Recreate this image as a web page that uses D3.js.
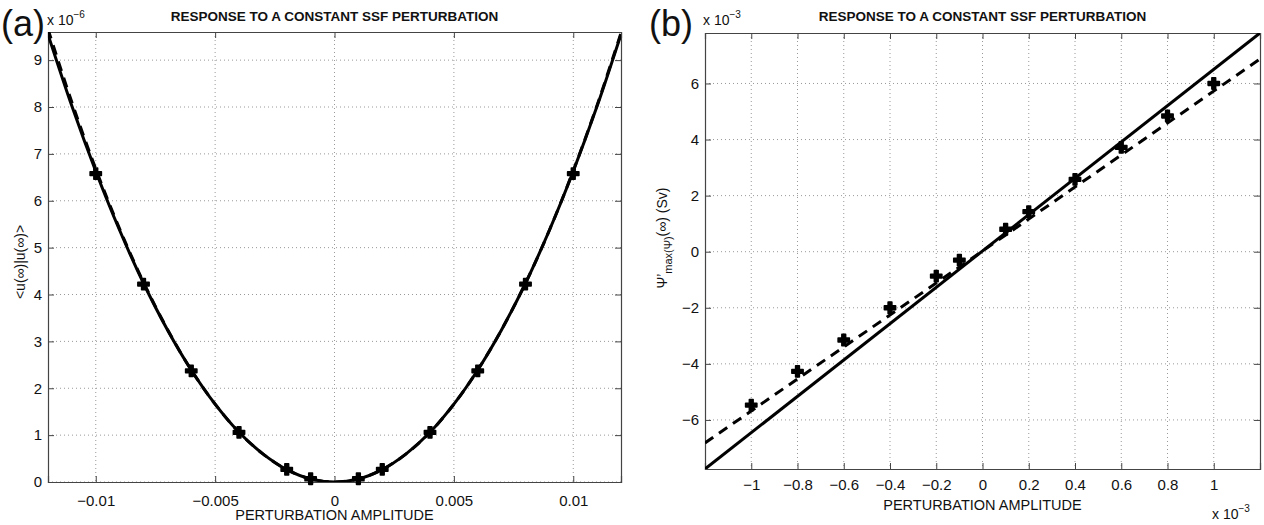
<!DOCTYPE html>
<html>
<head>
<meta charset="utf-8">
<script src="https://cdn.jsdelivr.net/npm/d3@7"></script>
<style>
  html, body { margin: 0; padding: 0; background: #fff; }
  svg { display: block; font-family: "Liberation Sans", Arial, Helvetica, sans-serif; }
</style>
</head>
<body>
<svg id="chart" width="1264" height="525"></svg>
<script>
// ---------- Panel (a) data ----------
const xTicksA = [-0.01, -0.005, 0, 0.005, 0.01];
const xLabelsA = ["\u22120.01", "\u22120.005", "0", "0.005", "0.01"];
const yTicksA = [0, 1, 2, 3, 4, 5, 6, 7, 8, 9];
const curveXA = [-0.012, -0.011, -0.010, -0.009, -0.008, -0.007, -0.006, -0.005, -0.004, -0.003, -0.002, -0.001, 0,
                 0.001, 0.002, 0.003, 0.004, 0.005, 0.006, 0.007, 0.008, 0.009, 0.010, 0.011, 0.012];
const solidA = [9.55, 8.02, 6.63, 5.37, 4.24, 3.25, 2.39, 1.66, 1.06, 0.60, 0.265, 0.066, 0,
                0.066, 0.265, 0.60, 1.06, 1.66, 2.39, 3.25, 4.24, 5.37, 6.63, 8.02, 9.55];
const dashedA = [9.66, 8.10, 6.68, 5.40, 4.26, 3.26, 2.39, 1.66, 1.06, 0.60, 0.265, 0.066, 0,
                 0.066, 0.265, 0.60, 1.06, 1.66, 2.39, 3.25, 4.24, 5.37, 6.64, 8.04, 9.58];
const markXA = [-0.010, -0.008, -0.006, -0.004, -0.002, -0.001, 0.001, 0.002, 0.004, 0.006, 0.008, 0.010];
const markYA = [6.58, 4.22, 2.37, 1.06, 0.27, 0.07, 0.07, 0.27, 1.06, 2.37, 4.22, 6.58];

// ---------- Panel (b) data ----------
const xTicksB = [-1, -0.8, -0.6, -0.4, -0.2, 0, 0.2, 0.4, 0.6, 0.8, 1];
const xLabelsB = ["\u22121", "\u22120.8", "\u22120.6", "\u22120.4", "\u22120.2", "0", "0.2", "0.4", "0.6", "0.8", "1"];
const yTicksB = [-6, -4, -2, 0, 2, 4, 6];
const yLabelsB = ["\u22126", "\u22124", "\u22122", "0", "2", "4", "6"];
const lineXB = [-1.2, 1.2];
const solidB = [-7.75, 7.8];
const dashedB = [-6.82, 6.87];
const markXB = [-1, -0.8, -0.6, -0.4, -0.2, -0.1, 0.1, 0.2, 0.4, 0.6, 0.8, 1];
const markYB = [-5.47, -4.27, -3.15, -2.0, -0.87, -0.3, 0.8, 1.43, 2.58, 3.72, 4.84, 6.0];

const svg = d3.select("#chart");
const axisColor = "#444";
const gridColor = "#999";

function panel(opts) {
  const { left, right, top, bottom, xDomain, yDomain, xTicks, xLabels, yTicks, yLabels, id, xPad } = opts;
  const x = d3.scaleLinear().domain(xDomain).range([left, right]);
  const y = d3.scaleLinear().domain(yDomain).range([bottom, top]);
  const g = svg.append("g");

  g.append("clipPath").attr("id", id).append("rect")
    .attr("x", left).attr("y", top).attr("width", right - left).attr("height", bottom - top);

  // grid
  g.append("g").selectAll("line").data(xTicks).join("line")
    .attr("x1", d => x(d)).attr("x2", d => x(d)).attr("y1", top).attr("y2", bottom)
    .attr("stroke", gridColor).attr("stroke-width", 1).attr("stroke-dasharray", "1,3");
  g.append("g").selectAll("line").data(yTicks).join("line")
    .attr("y1", d => y(d)).attr("y2", d => y(d)).attr("x1", left).attr("x2", right)
    .attr("stroke", gridColor).attr("stroke-width", 1).attr("stroke-dasharray", "1,3");

  // axes (Matlab style inward ticks on all sides)
  const tick = 6;
  const axB = d3.axisBottom(x).tickValues(xTicks).tickSize(-tick).tickPadding(xPad)
    .tickFormat((d, i) => xLabels[i]);
  const gB = g.append("g").attr("transform", `translate(0,${bottom})`).call(axB);
  const axT = d3.axisTop(x).tickValues(xTicks).tickSize(-tick).tickFormat("");
  const gT = g.append("g").attr("transform", `translate(0,${top})`).call(axT);
  const axL = d3.axisLeft(y).tickValues(yTicks).tickSize(-tick).tickPadding(6)
    .tickFormat((d, i) => yLabels[i]);
  const gL = g.append("g").attr("transform", `translate(${left},0)`).call(axL);
  const axR = d3.axisRight(y).tickValues(yTicks).tickSize(-tick).tickFormat("");
  const gR = g.append("g").attr("transform", `translate(${right},0)`).call(axR);
  [gB, gT, gL, gR].forEach(a => {
    a.selectAll("path.domain").attr("stroke", axisColor).attr("stroke-width", 1.2);
    a.selectAll(".tick line").attr("stroke", axisColor);
    a.selectAll("text").attr("fill", "#111").style("font-size", "15px")
      .style("font-family", "'Liberation Sans', Arial, sans-serif");
  });
  return { x, y, g };
}

function drawLine(p, xs, ys, dashed, clipId, curve) {
  const line = d3.line().x((d, i) => p.x(xs[i])).y(d => p.y(d)).curve(curve || d3.curveLinear);
  p.g.append("path").datum(ys)
    .attr("d", line)
    .attr("fill", "none").attr("stroke", "#000").attr("stroke-width", 3)
    .attr("stroke-dasharray", dashed ? "10,7" : null)
    .attr("clip-path", `url(#${clipId})`);
}

function drawMarkers(p, xs, ys) {
  const sym = d3.symbol().type(d3.symbolCross).size(70);
  p.g.append("g").selectAll("path").data(ys).join("path")
    .attr("transform", (d, i) => `translate(${p.x(xs[i])},${p.y(d)})`)
    .attr("d", sym)
    .attr("fill", "#000").attr("stroke", "#000").attr("stroke-width", 1.6).attr("stroke-linejoin", "round");
}

// ---------- Panel (a) ----------
const A = panel({
  id: "clipA", left: 48, right: 621, top: 32, bottom: 482,
  xDomain: [-0.012, 0.012], yDomain: [0, 9.6], xPad: 13,
  xTicks: xTicksA, xLabels: xLabelsA, yTicks: yTicksA, yLabels: yTicksA.map(String)
});
drawLine(A, curveXA, dashedA, true, "clipA", d3.curveCatmullRom);
drawLine(A, curveXA, solidA, false, "clipA", d3.curveCatmullRom);
drawMarkers(A, markXA, markYA);

// ---------- Panel (b) ----------
const B = panel({
  id: "clipB", left: 705, right: 1260, top: 33, bottom: 469,
  xDomain: [-1.2, 1.2], yDomain: [-7.75, 7.8], xPad: 10,
  xTicks: xTicksB, xLabels: xLabelsB, yTicks: yTicksB, yLabels: yLabelsB
});
drawLine(B, lineXB, dashedB, true, "clipB");
drawLine(B, lineXB, solidB, false, "clipB");
drawMarkers(B, markXB, markYB);

// ---------- Texts ----------
function txt(x, y, s, size, opts = {}) {
  const t = svg.append("text").attr("x", x).attr("y", y).text(s)
    .style("font-size", size + "px").attr("fill", "#111")
    .attr("text-anchor", opts.anchor || "start");
  if (opts.bold) t.style("font-weight", "bold");
  return t;
}

// panel letters
txt(1, 36, "(a)", 36);
txt(649, 36, "(b)", 36);

// titles
txt(334.5, 21, "RESPONSE TO A CONSTANT SSF PERTURBATION", 13.5, { anchor: "middle", bold: true });
txt(982.5, 21, "RESPONSE TO A CONSTANT SSF PERTURBATION", 13.5, { anchor: "middle", bold: true });

// exponent labels
function expo(x, y, exp) {
  const t = svg.append("text").attr("x", x).attr("y", y).attr("fill", "#111").style("font-size", "14px");
  t.append("tspan").text("x 10");
  t.append("tspan").attr("dy", -7).style("font-size", "10px").text(exp);
}
expo(47, 25, "\u22126");
expo(703, 25, "\u22123");
expo(1212, 519, "\u22123");

// x axis titles
txt(334.5, 520, "PERTURBATION AMPLITUDE", 14.5, { anchor: "middle" });
txt(982.5, 510, "PERTURBATION AMPLITUDE", 14.5, { anchor: "middle" });

// y axis titles
svg.append("text")
  .attr("transform", "translate(25,262) rotate(-90)")
  .attr("text-anchor", "middle").attr("fill", "#111").style("font-size", "14px")
  .text("<u(\u221e)|u(\u221e)>");

const yl = svg.append("text")
  .attr("transform", "translate(667,238) rotate(-90)")
  .attr("text-anchor", "middle").attr("fill", "#111").style("font-size", "14px");
yl.append("tspan").text("\u03a8\u2019");
yl.append("tspan").attr("dy", 5).style("font-size", "11px").text("max(\u03a8)");
yl.append("tspan").attr("dy", -5).text("(\u221e) (Sv)");
</script>
</body>
</html>
